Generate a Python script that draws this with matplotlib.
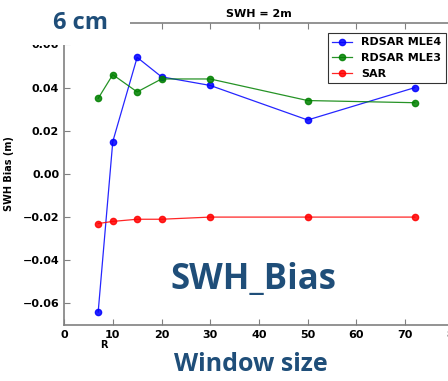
import matplotlib
matplotlib.use("Agg")
import matplotlib.pyplot as plt
from matplotlib.patches import Rectangle

window = [7, 10, 15, 20, 30, 50, 72]
mle4 = [-0.064, 0.015, 0.054, 0.045, 0.041, 0.025, 0.040]
mle3 = [0.035, 0.046, 0.038, 0.044, 0.044, 0.034, 0.033]
sar = [-0.023, -0.022, -0.021, -0.021, -0.020, -0.020, -0.020]

series = [
    ("RDSAR MLE4", mle4, "blue"),
    ("RDSAR MLE3", mle3, "green"),
    ("SAR", sar, "red"),
]

x_ticks = [0, 10, 20, 30, 40, 50, 60, 70, 80]
y_ticks = [-0.06, -0.04, -0.02, 0.00, 0.02, 0.04, 0.06]

overlay_color = "#1f4e79"
H = 381
W = 448

fig = plt.figure(figsize=(4.48, 3.81), dpi=100)
ax = fig.add_axes([0.143, 0.147, 0.87, 0.793])

for label, values, color in series:
    ax.plot(window, values, color=color, marker="o", markersize=4.5,
            linewidth=0.9, alpha=0.85, markeredgecolor=color, label=label)

ax.set_xlim(0, 80)
ax.set_ylim(-0.07, 0.07)
ax.set_xticks(x_ticks)
ax.set_yticks(y_ticks)
ax.set_yticklabels([f"{v:.2f}".replace("-", "\u2212") for v in y_ticks])
ax.tick_params(direction="in", top=True, right=True, labelsize=8,
               color="gray", length=4)
for lab in ax.get_xticklabels() + ax.get_yticklabels():
    lab.set_fontweight("bold")
for spine in ax.spines.values():
    spine.set_color("gray")
    spine.set_linewidth(1.2)

ax.set_title("SWH = 2m", fontsize=8, fontweight="bold", pad=4)
ax.set_ylabel("SWH Bias (m)", fontsize=7, fontweight="bold", labelpad=6)

leg = ax.legend(loc="upper right", prop={"size": 8, "weight": "bold"},
                fancybox=False, borderpad=0.4, handlelength=1.8,
                bbox_to_anchor=(0.993, 0.985))
leg.get_frame().set_edgecolor("black")
leg.get_frame().set_linewidth(0.8)

# overlay covering the top-left corner
fig.patches.append(Rectangle((0, 1 - 45 / H), 130 / W, 45 / H,
                             transform=fig.transFigure, facecolor="white",
                             edgecolor="none", zorder=5))
fig.text(80 / W, 1 - 29 / H, "6 cm", fontsize=17, fontweight="bold",
         color=overlay_color, family="Open Sans", ha="center", va="baseline",
         zorder=6)
fig.text(104 / W, 1 - 345 / H, "R", fontsize=7, fontweight="bold",
         ha="center", va="center")
fig.text(253 / W, 1 - 289 / H, "SWH_Bias", fontsize=25, fontweight="bold",
         color=overlay_color, family="Open Sans", ha="center", va="baseline")
fig.text(251 / W, 1 - 371 / H, "Window size", fontsize=18,
         fontweight="bold", color=overlay_color, family="Open Sans",
         ha="center", va="baseline")

fig.savefig("out.png", dpi=100)
